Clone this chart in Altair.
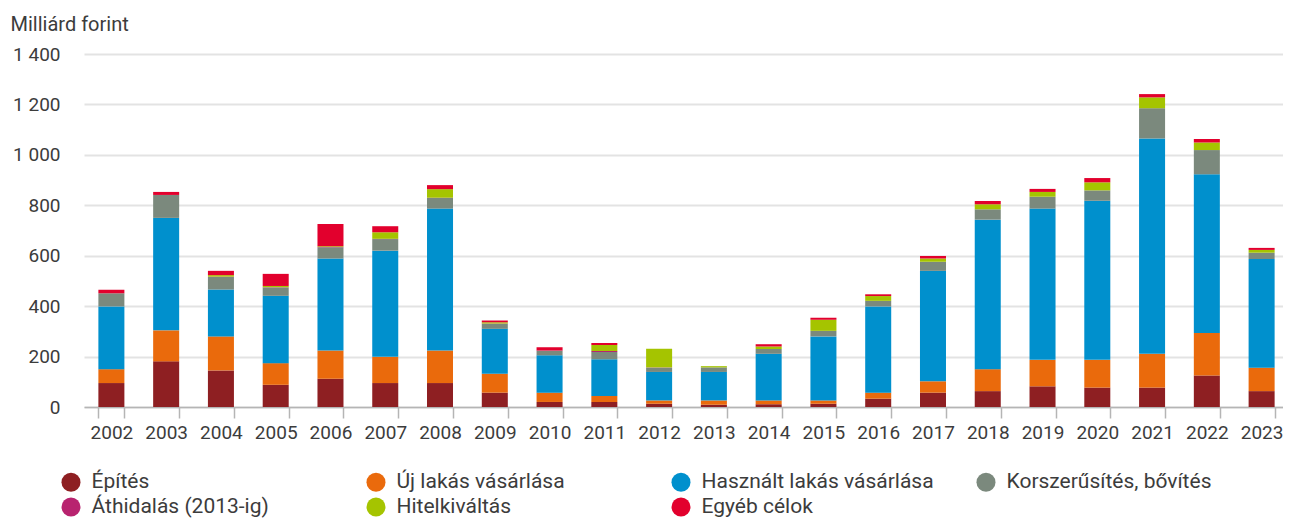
import altair as alt
import pandas as pd

years = ["2002", "2003", "2004", "2005", "2006", "2007", "2008", "2009", "2010", "2011", "2012",
         "2013", "2014", "2015", "2016", "2017", "2018", "2019", "2020", "2021", "2022", "2023"]

categories = ["Építés", "Új lakás vásárlása", "Használt lakás vásárlása", "Korszerűsítés, bővítés",
              "Áthidalás (2013-ig)", "Hitelkiváltás", "Egyéb célok"]
colors = ["#8e1f22", "#ea6a0c", "#0090cd", "#7b897d", "#b8236f", "#a5c400", "#e2002d"]

epites = [95, 181, 145, 88, 112, 95, 95, 57, 20, 20, 13, 9, 11, 13, 33, 57, 63, 82, 77, 77, 125, 63]
uj_lakas = [55, 123, 135, 86, 112, 104, 129, 75, 37, 24, 13, 17, 15, 13, 24, 45, 87, 105, 110, 134, 168, 93]
hasznalt = [249, 446, 186, 267, 365, 421, 563, 178, 148, 145, 113, 113, 185, 254, 342, 438, 593, 600, 631, 854, 630, 431]
korszerusites = [52, 91, 50, 33, 45, 46, 42, 20, 18, 29, 17, 18, 19, 22, 22, 36, 41, 47, 41, 120, 96, 25]
athidalas = [0, 0, 1, 1, 1, 1, 1, 1, 1, 4, 1, 0, 0, 0, 0, 0, 0, 0, 0, 0, 0, 0]
hitelkivaltas = [0, 0, 6, 5, 3, 26, 34, 5, 0, 24, 74, 5, 10, 44, 19, 13, 20, 19, 32, 43, 30, 11]
egyeb = [14, 12, 17, 48, 88, 24, 16, 7, 13, 8, 0, 0, 9, 8, 7, 10, 13, 12, 17, 13, 14, 8]

series = [epites, uj_lakas, hasznalt, korszerusites, athidalas, hitelkivaltas, egyeb]

rows = []
for ci, (cat, vals) in enumerate(zip(categories, series)):
    for y, v in zip(years, vals):
        rows.append({"year": y, "cat": cat, "value": v, "ord": ci})
df = pd.DataFrame(rows)

FONT = "Roboto"
TXT = "#3c3c3c"

chart = alt.Chart(df).mark_bar().encode(
    x=alt.X("year:N", sort=years,
            scale=alt.Scale(paddingInner=0.525, paddingOuter=0.2625),
            axis=alt.Axis(title=None, labelAngle=0, labelFontSize=19, labelColor=TXT, labelFont=FONT,
                          domainColor="#b5b5b5", domainWidth=1.5, tickColor="#b5b5b5", tickWidth=1.5,
                          tickSize=11, tickBand="extent", labelPadding=5, grid=False)),
    y=alt.Y("value:Q", stack="zero",
            scale=alt.Scale(domain=[0, 1400], nice=False),
            axis=alt.Axis(values=[0, 200, 400, 600, 800, 1000, 1200, 1400],
                          labelExpr="replace(format(datum.value, ','), ',', ' ')",
                          labelFontSize=19, labelColor=TXT, labelFont=FONT, labelPadding=24,
                          domain=False, ticks=False, gridColor="#e3e3e3", gridWidth=2,
                          title="Milliárd forint", titleAngle=0, titleAlign="left",
                          titleBaseline="alphabetic", titleX=-74, titleY=-24,
                          titleFontSize=20, titleFontWeight="normal", titleColor=TXT, titleFont=FONT)),
    color=alt.Color("cat:N", scale=alt.Scale(domain=categories, range=colors),
                    legend=alt.Legend(title=None, orient="none", legendX=-23.5, legendY=417.5,
                                      columns=4, direction="horizontal",
                                      symbolType="circle", symbolSize=361, symbolStrokeWidth=0,
                                      symbolOpacity=1, labelFontSize=21, labelColor=TXT,
                                      labelFont=FONT, labelOffset=10, labelLimit=400, padding=0)),
    order=alt.Order("ord:Q", sort="ascending"),
).properties(
    width=1205, height=353,
    autosize=alt.AutoSizeParams(type="none"),
    padding={"top": 46, "left": 76, "right": -6, "bottom": 112},
).configure_view(stroke=None).configure_legend(
    gridAlign="all", columnPadding=41, rowPadding=3
)

chart.save("out.html", embed_options={"renderer": "svg", "actions": False})
